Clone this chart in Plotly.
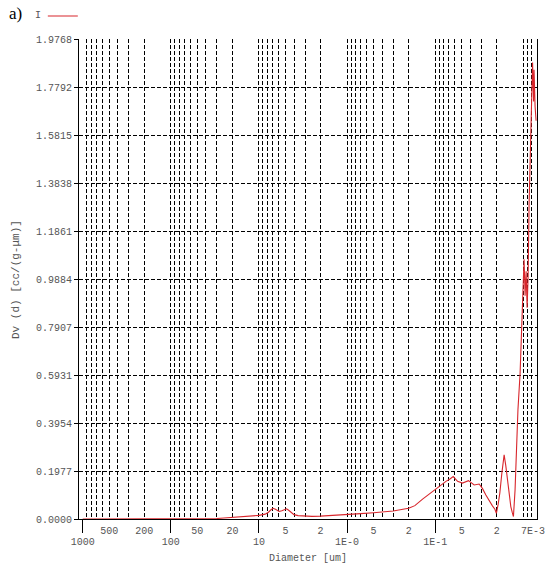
import math
import plotly.graph_objects as go

# Data (diameter in um, Dv(d) in cc/(g-um))
diameter = [1000, 500, 200, 100, 50, 35, 30, 25, 20, 15, 12, 10, 8.5, 7.8, 7.3, 6.9, 6.5, 6.2,
            5.9, 5.5, 5.1, 4.85, 4.6, 4.3, 4.0, 3.6, 3.0, 2.5, 2.0, 1.5, 1.0, 0.7, 0.5, 0.3,
            0.2, 0.17, 0.139, 0.12, 0.1, 0.087, 0.0755, 0.068, 0.0624, 0.0557, 0.049, 0.0419,
            0.0361, 0.0317, 0.029, 0.0266, 0.0245, 0.0224, 0.021, 0.0202, 0.0193, 0.01846,
            0.0175, 0.0165, 0.0158, 0.01514, 0.0145, 0.01386, 0.0133, 0.01294, 0.0124,
            0.01198, 0.0115, 0.01087, 0.01005, 0.0098, 0.00954, 0.00929, 0.00905, 0.00882,
            0.00859, 0.00817, 0.00785, 0.00764, 0.00755, 0.00735, 0.00716]
dv = [0, 0, 0, 0, 0, 0, 0.002, 0.004, 0.006, 0.009, 0.012, 0.015, 0.020, 0.028, 0.038, 0.044,
      0.040, 0.034, 0.031, 0.034, 0.039, 0.042, 0.036, 0.026, 0.018, 0.014, 0.012, 0.011,
      0.012, 0.014, 0.018, 0.022, 0.026, 0.033, 0.044, 0.055, 0.082, 0.100, 0.122, 0.140,
      0.155, 0.165, 0.175, 0.155, 0.148, 0.158, 0.140, 0.144, 0.125, 0.099, 0.075, 0.054,
      0.040, 0.023, 0.060, 0.107, 0.190, 0.264, 0.220, 0.161, 0.100, 0.051, 0.025, 0.010,
      0.120, 0.298, 0.45, 0.60, 0.95, 1.07, 0.92, 1.02, 0.87, 1.00, 1.30, 1.60, 1.88, 1.72,
      1.85, 1.70, 1.64]

y_max = 1.9768
y_ticks = [round(y_max * i / 10, 6) for i in range(11)]
y_ticktext = ["0.0000", "0.1977", "0.3954", "0.5931", "0.7907", "0.9884",
              "1.1861", "1.3838", "1.5815", "1.7792", "1.9768"]

# Minor/major gridline positions and upper-row labels
grid_vals = []
grid_text = []
upper_labels = {500: "500", 200: "200", 50: "50", 20: "20", 5: "5", 2: "2",
                0.5: "5", 0.2: "2", 0.05: "5", 0.02: "2"}
for e in range(3, -3, -1):
    for k in range(9, 0, -1):
        v = round(k * 10 ** (e - 1), 6)
        if v < 0.007 or v > 1000:
            continue
        grid_vals.append(v)
        grid_text.append(upper_labels.get(v, ""))
end_val = [0.007]
end_text = ["7E-3"]
decade_vals = [1000, 100, 10, 1, 0.1]
decade_text = ["1000", "100", "10", "1E-0", "1E-1"]

x_range = [3.042, -2.1555]
mono = "Liberation Mono"
grey = "#555555"

fig = go.Figure()
fig.add_trace(go.Scatter(x=diameter, y=dv, mode="lines", name="",
                         line=dict(color="#d8262c", width=1.1), showlegend=True))
# invisible traces to carry the secondary axes (decade labels, end label)
fig.add_trace(go.Scatter(x=[1000, 0.01], y=[0, 0], xaxis="x2", mode="lines",
                         line=dict(width=0), hoverinfo="skip", showlegend=False))
fig.add_trace(go.Scatter(x=[1000, 0.01], y=[0, 0], xaxis="x3", mode="lines",
                         line=dict(width=0), hoverinfo="skip", showlegend=False))

tick_font = dict(family=mono, size=10, color=grey)

fig.update_layout(
    width=550, height=563,
    margin=dict(l=79, r=13, t=39, b=44, autoexpand=False),
    paper_bgcolor="white", plot_bgcolor="white",
    font=dict(family=mono, size=10, color=grey),
    xaxis=dict(type="log", range=x_range, tickmode="array", tickvals=grid_vals,
               ticktext=grid_text, showgrid=True, gridcolor="#000000", gridwidth=1,
               griddash="4px,2px", ticks="outside", ticklen=2, tickcolor="rgba(0,0,0,0)",
               showline=True, linecolor="#000000", linewidth=1, mirror=False,
               zeroline=False, tickangle=0, automargin=False, tickfont=tick_font),
    xaxis2=dict(type="log", range=x_range, overlaying="x", anchor="y", side="bottom",
                tickmode="array", tickvals=decade_vals, ticktext=decade_text,
                showgrid=False, ticks="outside", ticklen=13, tickcolor="#000000",
                tickwidth=1, showline=False, zeroline=False, tickangle=0, automargin=False,
                tickfont=tick_font),
    xaxis3=dict(type="log", range=x_range, overlaying="x", anchor="y", side="bottom",
                tickmode="array", tickvals=end_val, ticktext=end_text,
                showgrid=False, ticks="outside", ticklen=2, tickcolor="rgba(0,0,0,0)",
                ticklabelshift=4, ticklabeloverflow="allow", showline=False,
                zeroline=False, tickangle=0, automargin=False, tickfont=tick_font),
    yaxis=dict(range=[0, 1.97685], tickmode="array", tickvals=y_ticks, ticktext=y_ticktext,
               showgrid=True, gridcolor="#000000", gridwidth=1, griddash="4px,2px",
               ticks="outside", ticklen=4, tickcolor="#000000",
               showline=True, linecolor="#000000", linewidth=1, mirror=True,
               zeroline=False, automargin=False, tickfont=tick_font),
    legend=dict(x=-0.079, y=1.048, xanchor="left", yanchor="middle",
                bgcolor="rgba(0,0,0,0)", font=dict(family=mono, size=10, color=grey),
                itemwidth=30, tracegroupgap=0),
    annotations=[
        dict(text="a)", xref="paper", yref="paper", x=-0.158, y=1.054, xanchor="left",
             yanchor="middle", showarrow=False,
             font=dict(family="Liberation Serif", size=17, color="#000000")),
        dict(text="I", xref="paper", yref="paper", x=-0.0895, y=1.048, xanchor="center",
             yanchor="middle", showarrow=False,
             font=dict(family=mono, size=10, color=grey)),
        dict(text="Dv (d) [cc/(g-μm)]", xref="paper", yref="paper", x=-0.1376, y=0.5,
             xanchor="center", yanchor="middle", showarrow=False, textangle=-90,
             font=dict(family=mono, size=11, color=grey)),
        dict(text="Diameter [um]", xref="paper", yref="paper", x=0.5, y=-0.083,
             xanchor="center", yanchor="middle", showarrow=False,
             font=dict(family=mono, size=10, color=grey)),
    ],
)

fig.write_html("out.html", config={"displayModeBar": False},
               post_script="document.body.style.margin='0';document.body.style.overflow='hidden';")
